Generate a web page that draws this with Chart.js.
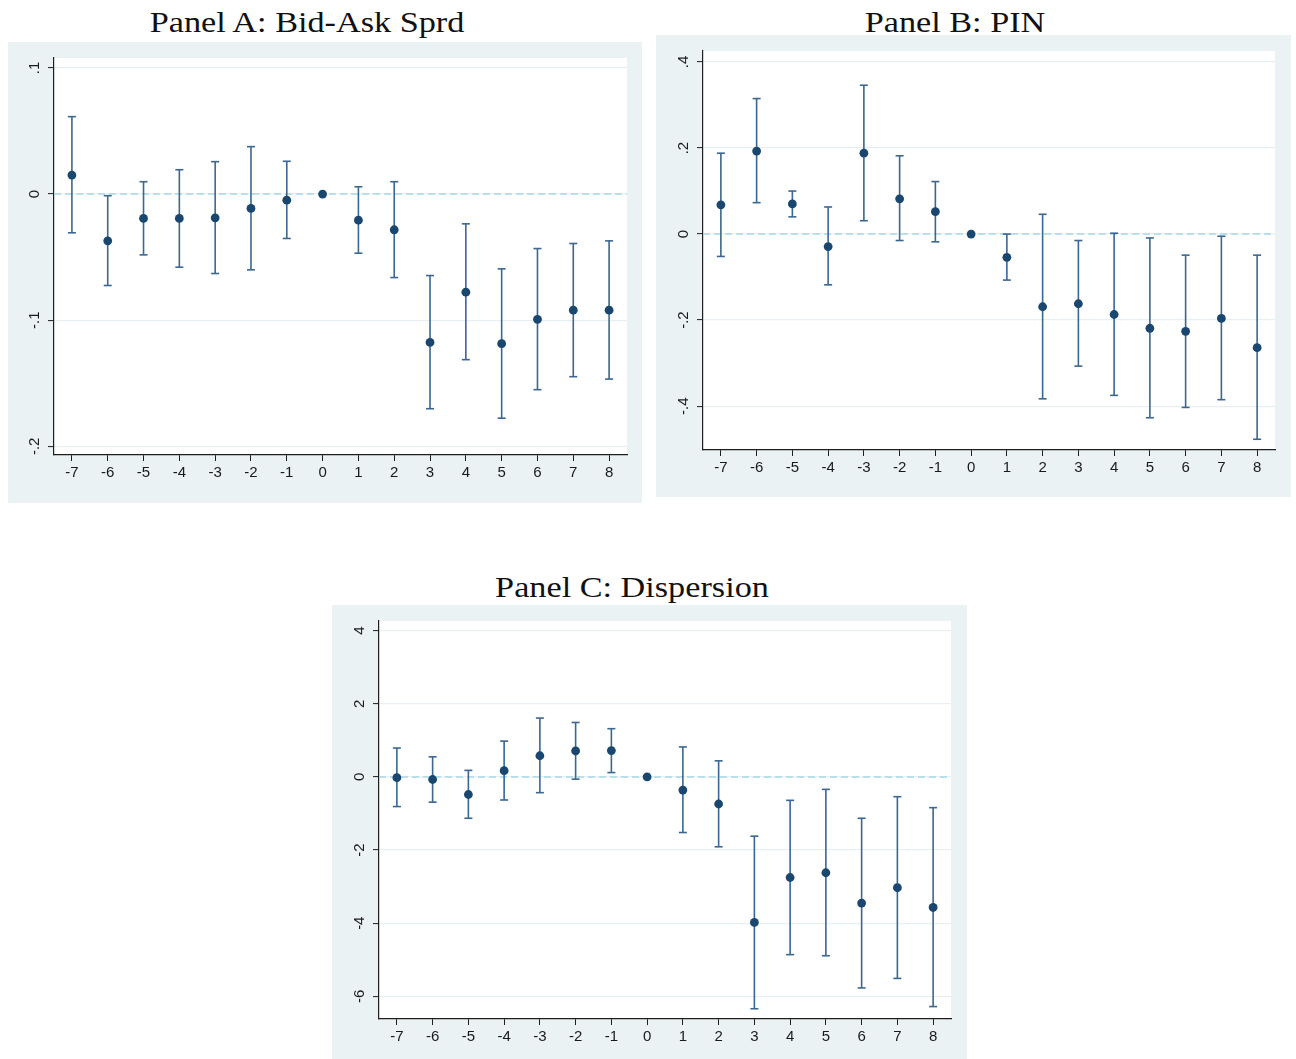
<!DOCTYPE html>
<html>
<head>
<meta charset="utf-8">
<script src="https://cdn.jsdelivr.net/npm/chart.js@4.4.1/dist/chart.umd.min.js"></script>
<style>
  html, body { margin:0; padding:0; background:#ffffff; }
  body { width:1296px; height:1059px; position:relative; overflow:hidden; }
  .panel { position:absolute; background:#EAF2F3; }
  .panel canvas { position:absolute; left:0; top:0; }
  .title { position:absolute; font-family:"Liberation Serif","DejaVu Serif",serif; font-size:29px; color:#111;
           white-space:nowrap; transform:translate(-50%,-50%) scaleX(1.18); line-height:1; }
</style>
</head>
<body>
<div class="title" style="left:307px;top:22px">Panel A: Bid-Ask Sprd</div>
<div class="title" style="left:955px;top:22px">Panel B: PIN</div>
<div class="title" style="left:632px;top:587px">Panel C: Dispersion</div>
<div class="panel" id="boxA" style="left:8px;top:42px;width:634px;height:461px"><canvas id="cA" width="634" height="461"></canvas></div>
<div class="panel" id="boxB" style="left:656px;top:35px;width:635px;height:462px"><canvas id="cB" width="635" height="462"></canvas></div>
<div class="panel" id="boxC" style="left:332px;top:605px;width:635px;height:454px"><canvas id="cC" width="635" height="454"></canvas></div>
<script>
// ---- data ----
const events = [-7,-6,-5,-4,-3,-2,-1,0,1,2,3,4,5,6,7,8];
const xTickLabels = ["-7","-6","-5","-4","-3","-2","-1","0","1","2","3","4","5","6","7","8"];

// Panel A: Bid-Ask Spread
const spreadCoef  = [0.0151,-0.0371,-0.0193,-0.0193,-0.0188,-0.0114,-0.0048,0,-0.0207,-0.0283,-0.1176,-0.0778,-0.1186,-0.0993,-0.0921,-0.0921];
const spreadUpper = [0.0614,-0.0013,0.0098,0.0193,0.0257,0.0376,0.0260,null,0.0058,0.0098,-0.0646,-0.0236,-0.0593,-0.0432,-0.0392,-0.0371];
const spreadLower = [-0.0307,-0.0725,-0.0482,-0.0580,-0.0630,-0.0601,-0.0352,null,-0.0469,-0.0662,-0.1702,-0.1313,-0.1777,-0.1551,-0.1448,-0.1467];
const spreadTicks = [0.1,0,-0.1,-0.2];
const spreadTickLabels = [".1","0","-.1","-.2"];

// Panel B: PIN
const pinCoef  = [0.068,0.193,0.070,-0.029,0.188,0.082,0.052,0,-0.054,-0.169,-0.162,-0.187,-0.219,-0.226,-0.196,-0.264];
const pinUpper = [0.188,0.315,0.100,0.063,0.346,0.182,0.122,null,0.000,0.046,-0.015,0.002,-0.009,-0.049,-0.005,-0.049];
const pinLower = [-0.052,0.073,0.040,-0.118,0.031,-0.015,-0.018,null,-0.107,-0.383,-0.307,-0.375,-0.427,-0.403,-0.385,-0.477];
const pinTicks = [0.4,0.2,0,-0.2,-0.4];
const pinTickLabels = [".4",".2","0","-.2","-.4"];

// Panel C: Dispersion
const dispCoef  = [-0.02,-0.07,-0.48,0.17,0.58,0.71,0.72,0,-0.36,-0.74,-3.98,-2.75,-2.62,-3.45,-3.03,-3.57];
const dispUpper = [0.79,0.55,0.18,0.98,1.61,1.49,1.32,null,0.82,0.44,-1.62,-0.64,-0.34,-1.13,-0.54,-0.84];
const dispLower = [-0.81,-0.69,-1.13,-0.63,-0.43,-0.06,0.12,null,-1.52,-1.91,-6.34,-4.86,-4.89,-5.77,-5.51,-6.28];
const dispTicks = [4,2,0,-2,-4,-6];
const dispTickLabels = ["4","2","0","-2","-4","-6"];

const refLineValue = [0];

// ---- styling ----
const MARKER = '#1A476F';
const BAR = '#3B6790';
const REF = '#A9D9E6';
const GRID = '#E8EFF2';
const AXIS = '#1E1E1E';
const TXT = '#1a1a1a';
const FONT = '"Liberation Sans", Arial, sans-serif';

const plotBg = {
  id: 'plotBg',
  beforeDraw(chart) {
    const {ctx, chartArea: a} = chart;
    ctx.save(); ctx.fillStyle = '#ffffff';
    ctx.fillRect(a.left, a.top, a.right - a.left, a.bottom - a.top);
    ctx.restore();
  }
};

function makePanel(canvasId, coef, upper, lower, yTicks, yLabels, yMin, yMax, lay) {
  const xMin = -7.5, xMax = 8.5;
  const pts = events.map((x, i) => ({x, y: coef[i]}));
  const spans = [], caps = [];
  events.forEach((x, i) => {
    if (upper[i] == null || lower[i] == null) return;
    spans.push({x, y: lower[i]});
    spans.push({x, y: upper[i]});
    spans.push({x, y: null});
    caps.push({x, y: upper[i]});
    caps.push({x, y: lower[i]});
  });
  const yLabelPlugin = {
    id: 'yLabels',
    afterDraw(chart) {
      const s = chart.scales.y, ctx = chart.ctx;
      ctx.save();
      ctx.fillStyle = TXT;
      ctx.font = '15px ' + FONT;
      ctx.textAlign = 'center';
      ctx.textBaseline = 'middle';
      yTicks.forEach((v, i) => {
        const py = s.getPixelForValue(v);
        ctx.save();
        ctx.translate(s.right - lay.yLabelOff, py);
        ctx.rotate(-Math.PI / 2);
        ctx.fillText(yLabels[i], 0, 0);
        ctx.restore();
      });
      ctx.restore();
    }
  };
  return new Chart(document.getElementById(canvasId), {
    type: 'scatter',
    data: {
      datasets: [
        { type: 'line', data: [{x: xMin, y: refLineValue[0]}, {x: xMax, y: refLineValue[0]}],
          borderColor: REF, borderWidth: 1.6, borderDash: [7, 4], pointRadius: 0, order: 5 },
        { type: 'line', data: spans, borderColor: BAR, borderWidth: 1.6, pointRadius: 0,
          spanGaps: false, tension: 0, order: 4 },
        { type: 'scatter', data: caps, pointStyle: 'line', pointRadius: 4, borderColor: BAR,
          borderWidth: 1.6, pointHoverRadius: 4, order: 3 },
        { type: 'scatter', data: pts, pointStyle: 'circle', pointRadius: 4.4, backgroundColor: MARKER,
          borderWidth: 0, pointHoverRadius: 4.4, order: 1 }
      ]
    },
    options: {
      responsive: false,
      animation: false,
      events: [],
      layout: { padding: { top: lay.top, right: lay.right, left: 0, bottom: 0 } },
      plugins: { legend: { display: false }, tooltip: { enabled: false }, title: { display: false } },
      scales: {
        x: {
          type: 'linear', min: xMin, max: xMax, offset: false,
          afterBuildTicks(scale) { scale.ticks = events.map(v => ({value: v})); },
          afterFit(scale) { scale.height = lay.xH; },
          ticks: { autoSkip: false, maxRotation: 0, minRotation: 0, padding: 3, color: TXT,
                   font: { family: FONT, size: 15 },
                   callback: (v, i) => xTickLabels[i] },
          grid: { offset: false, drawOnChartArea: false, drawTicks: true, tickLength: 6, color: AXIS,
                  tickColor: AXIS, tickWidth: 1 },
          border: { display: true, color: AXIS, width: 1.2 }
        },
        y: {
          type: 'linear', min: yMin, max: yMax, offset: false,
          afterBuildTicks(scale) { scale.ticks = yTicks.map(v => ({value: v})); },
          afterFit(scale) { scale.width = lay.yW; },
          ticks: { display: false },
          grid: { offset: false, drawOnChartArea: true, drawTicks: true, tickLength: 6, color: GRID, lineWidth: 1.2,
                  tickColor: AXIS, tickWidth: 1 },
          border: { display: true, color: AXIS, width: 1.2 }
        }
      }
    },
    plugins: [plotBg, yLabelPlugin]
  });
}

makePanel('cA', spreadCoef, spreadUpper, spreadLower, spreadTicks, spreadTickLabels, -0.2069, 0.1079,
  { top: 16, right: 15, xH: 48, yW: 46, yLabelOff: 19.5 });
makePanel('cB', pinCoef, pinUpper, pinLower, pinTicks, pinTickLabels, -0.502, 0.4256,
  { top: 16, right: 16, xH: 47, yW: 47, yLabelOff: 19.5 });
makePanel('cC', dispCoef, dispUpper, dispLower, dispTicks, dispTickLabels, -6.62, 4.265,
  { top: 16, right: 16, xH: 40, yW: 47, yLabelOff: 19.5 });
</script>
</body>
</html>
